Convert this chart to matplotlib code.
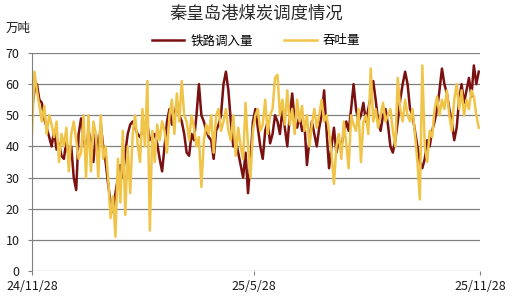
import numpy as np
import pandas as pd
import matplotlib
matplotlib.use("Agg")
import matplotlib.pyplot as plt
import matplotlib.dates as mdates

plt.rcParams['font.family'] = ['Noto Sans CJK SC', 'DejaVu Sans']

# 数据: 每两天一个点, 2024-11-28 起 (读图估计, 单位 万吨)
start_date = "2024-11-28"
rail_in = [
    52, 58, 60, 55, 54, 49, 46, 43, 40, 45,
    39, 41, 37, 36, 42, 36, 40, 30, 26, 44,
    49, 43, 38, 45, 42, 35, 44, 38, 47, 40,
    35, 28, 22, 19, 25, 30, 34, 30, 38, 44,
    47, 48, 46, 44, 43, 45, 46, 47, 42, 43,
    44, 41, 36, 32, 40, 48, 52, 47, 50, 54,
    50, 48, 44, 38, 37, 44, 42, 50, 60, 50,
    48, 45, 43, 42, 36, 45, 47, 50, 60, 64,
    58, 48, 40, 42, 38, 34, 30, 38, 25, 35,
    48, 52, 46, 40, 36, 45, 48, 41, 44, 50,
    48, 44, 52, 46, 40, 50, 57, 48, 46, 50,
    45, 47, 34, 42, 48, 44, 40, 46, 50, 58,
    45, 33, 40, 46, 38, 42, 40, 44, 48, 45,
    52, 60, 52, 48, 50, 54, 48, 52, 56, 61,
    55, 48, 45, 50, 52, 47, 40, 38, 42, 48,
    55, 60, 64, 60, 52, 50, 45, 40, 35, 33,
    36, 42, 40, 45, 48, 52, 58, 65, 60, 57,
    52, 48, 42, 46, 55, 60, 54, 58, 62, 56, 66, 60, 64,
]
throughput = [
    44, 64, 58, 53, 48, 53, 44, 50, 47, 43,
    48, 35, 44, 40, 46, 32, 44, 48, 42, 36,
    38, 50, 30, 50, 32, 48, 44, 30, 50, 36,
    40, 30, 17, 24, 11, 36, 22, 45, 18, 40,
    25, 44, 50, 41, 35, 52, 40, 61, 13, 45,
    35, 47, 42, 48, 45, 38, 50, 55, 44, 57,
    48, 61, 50, 48, 42, 50, 46, 40, 43, 27,
    42, 47, 44, 50, 38, 50, 52, 45, 48, 52,
    45, 42, 50, 37, 46, 40, 36, 54, 40, 30,
    45, 50, 52, 45, 47, 55, 44, 50, 52, 62,
    63, 50, 55, 47, 58, 47, 52, 44, 55, 48,
    53, 45, 50, 40, 47, 52, 46, 50, 55, 48,
    50, 45, 38, 28, 40, 44, 36, 48, 41, 33,
    50, 47, 45, 52, 35, 48, 50, 44, 65, 48,
    52, 46, 50, 54, 48, 50, 52, 45, 40, 62,
    52, 48, 55, 50, 48, 52, 44, 35, 23, 66,
    40, 35, 45, 43, 52, 56, 50, 55, 52, 58,
    50, 45, 55, 60, 52, 58, 50, 55, 52, 58, 56, 50, 46,
]
tick_dates = ["2024-11-28", "2025-05-28", "2025-11-28"]
tick_labels = ["24/11/28", "25/5/28", "25/11/28"]

dates = pd.date_range(start_date, periods=len(rail_in), freq="2D")

fig = plt.figure(figsize=(5.12, 3.03), dpi=100)
ax = fig.add_axes([0.0625, 0.1056, 0.875, 0.7195])

ax.plot(dates, rail_in, color="#7a1010", lw=1.8, label="铁路调入量")
ax.plot(dates, throughput, color="#f0c448", lw=1.8, label="吞吐量")

ax.set_ylim(0, 70)
ax.set_yticks(range(0, 71, 10))
ax.set_xlim(pd.Timestamp(tick_dates[0]), pd.Timestamp(tick_dates[-1]))
ax.set_xticks([pd.Timestamp(d) for d in tick_dates])
ax.set_xticklabels(tick_labels)

ax.grid(axis="y", color="#808080", lw=0.9)
ax.set_axisbelow(True)
for s in ["top", "right", "bottom"]:
    ax.spines[s].set_visible(False)
ax.spines["left"].set_color("#808080")
ax.tick_params(axis="both", labelsize=9, colors="#808080", length=3, labelcolor="#1a1a1a")
ax.tick_params(axis="y", pad=6)

fig.text(0.5, 0.955, "秦皇岛港煤炭调度情况", ha="center", va="center",
         fontsize=12.5, color="#2a2a2a", fontweight="medium")
fig.text(0.01, 0.905, "万吨", ha="left", va="center", fontsize=9, color="#1a1a1a")
fig.legend(loc="center", bbox_to_anchor=(0.5, 0.865), ncol=2, frameon=False,
           fontsize=9, handlelength=2.6, columnspacing=2.5, handletextpad=0.5)

fig.savefig("out.png", dpi=100, facecolor="white")
